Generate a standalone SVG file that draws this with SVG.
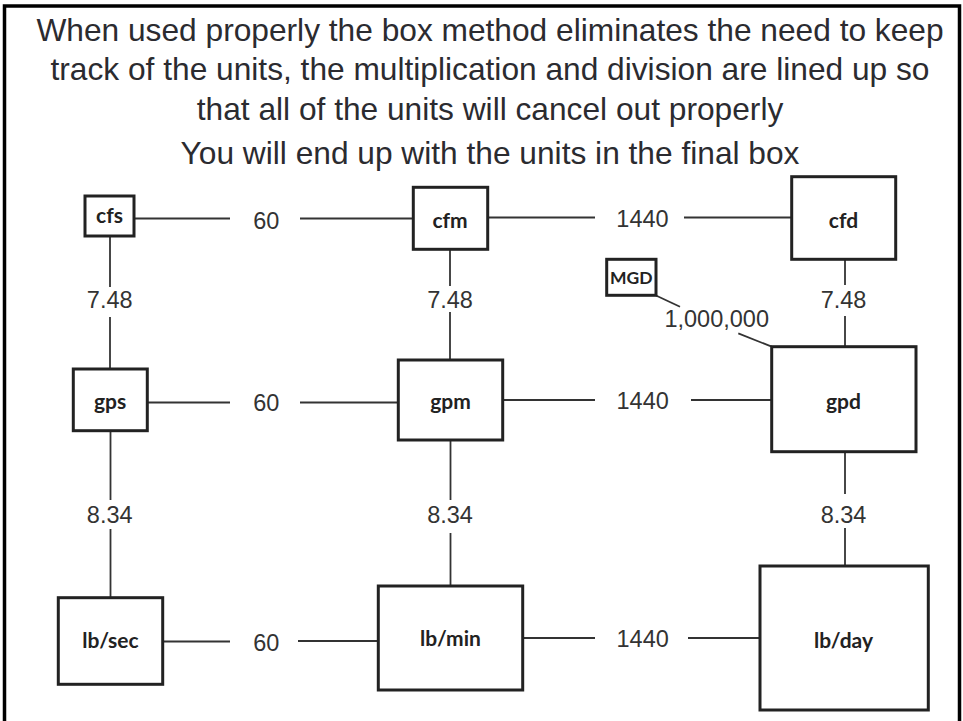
<svg xmlns="http://www.w3.org/2000/svg" width="963" height="721" viewBox="0 0 963 721">
<style>
.title{font-family:"Liberation Sans",Arial,sans-serif;font-size:31.7px;fill:#2b2b30;text-anchor:middle}
.lbl{font-family:"Liberation Sans",Arial,sans-serif;font-size:23.5px;fill:#333;text-anchor:middle}
.box{fill:#fff;stroke:#222;stroke-width:3}
.nt{font-family:Lato,"Open Sans",sans-serif;font-weight:bold;font-size:21px;fill:#222;text-anchor:middle}
.conn line{stroke:#333;stroke-width:1.8}
</style>
<rect x="0" y="0" width="963" height="721" fill="#fff"/>
<rect x="4.5" y="6" width="955" height="730" fill="none" stroke="#000" stroke-width="3.5"/>
<g id="title">
<text class="title" x="490" y="40.5">When used properly the box method eliminates the need to keep</text>
<text class="title" x="490" y="80">track of the units, the multiplication and division are lined up so</text>
<text class="title" x="490" y="119.5">that all of the units will cancel out properly</text>
<text class="title" x="490" y="163.5">You will end up with the units in the final box</text>
</g>
<g id="connectors" class="conn">
<line x1="134" y1="218.5" x2="230" y2="218.5"/>
<line x1="300" y1="218.5" x2="413" y2="218.5"/>
<line x1="487" y1="217.5" x2="595" y2="217.5"/>
<line x1="684" y1="217.5" x2="792" y2="217.5"/>
<line x1="110" y1="236" x2="110" y2="287"/>
<line x1="110" y1="317" x2="110" y2="369"/>
<line x1="110.5" y1="431" x2="110.5" y2="500"/>
<line x1="110.5" y1="529" x2="110.5" y2="598"/>
<line x1="450" y1="249" x2="450" y2="286"/>
<line x1="450" y1="312" x2="450" y2="360"/>
<line x1="450.5" y1="440" x2="450.5" y2="500"/>
<line x1="450.5" y1="533" x2="450.5" y2="586"/>
<line x1="845" y1="259" x2="845" y2="285"/>
<line x1="845" y1="316" x2="845" y2="347"/>
<line x1="845" y1="452" x2="845" y2="494"/>
<line x1="845" y1="528" x2="845" y2="566"/>
<line x1="147" y1="402.5" x2="230" y2="402.5"/>
<line x1="300" y1="402.5" x2="398" y2="402.5"/>
<line x1="503" y1="400" x2="595" y2="400"/>
<line x1="691" y1="400" x2="772" y2="400"/>
<line x1="163" y1="641.5" x2="230" y2="641.5"/>
<line x1="298" y1="641" x2="378" y2="641"/>
<line x1="523" y1="638" x2="595" y2="638"/>
<line x1="688" y1="638" x2="760" y2="638"/>
<line x1="656" y1="295.5" x2="680" y2="306.7"/>
<line x1="738.3" y1="333.3" x2="771.7" y2="346.7"/>
<text class="lbl" x="266.3" y="229">60</text>
<text class="lbl" x="642.5" y="227">1440</text>
<text class="lbl" x="109.7" y="307.5">7.48</text>
<text class="lbl" x="450" y="307.5">7.48</text>
<text class="lbl" x="843.5" y="307.5">7.48</text>
<text class="lbl" x="716.7" y="326.7">1,000,000</text>
<text class="lbl" x="266.3" y="411">60</text>
<text class="lbl" x="642.7" y="409">1440</text>
<text class="lbl" x="109.7" y="522.7">8.34</text>
<text class="lbl" x="450" y="522.7">8.34</text>
<text class="lbl" x="843.5" y="522.7">8.34</text>
<text class="lbl" x="266.3" y="650.7">60</text>
<text class="lbl" x="642.7" y="646.7">1440</text>
</g>
<g id="cfs"><rect class="box" x="85" y="196" width="49" height="40"/><text class="nt" x="109.5" y="223.3">cfs</text></g>
<g id="cfm"><rect class="box" x="413.3" y="187.3" width="74.4" height="62"/><text class="nt" x="450" y="228.3">cfm</text></g>
<g id="cfd"><rect class="box" x="791.7" y="176.7" width="104" height="82.6"/><text class="nt" x="843.5" y="228.3">cfd</text></g>
<g id="MGD"><rect class="box" x="606.7" y="259.3" width="49.3" height="36"/><text class="nt" x="631.3" y="284" style="font-size:17.5px">MGD</text></g>
<g id="gps"><rect class="box" x="73.3" y="369" width="74" height="61.7"/><text class="nt" x="110" y="409">gps</text></g>
<g id="gpm"><rect class="box" x="398.3" y="360" width="104.4" height="80"/><text class="nt" x="450.5" y="409">gpm</text></g>
<g id="gpd"><rect class="box" x="771.7" y="346.7" width="144.3" height="105"/><text class="nt" x="843.5" y="409">gpd</text></g>
<g id="lbsec"><rect class="box" x="58.3" y="597.7" width="104.4" height="86.6"/><text class="nt" x="110.5" y="648">lb/sec</text></g>
<g id="lbmin"><rect class="box" x="378.3" y="586" width="144.4" height="104"/><text class="nt" x="450.5" y="646">lb/min</text></g>
<g id="lbday"><rect class="box" x="760" y="566" width="168.3" height="144"/><text class="nt" x="843.5" y="648">lb/day</text></g>
</svg>
